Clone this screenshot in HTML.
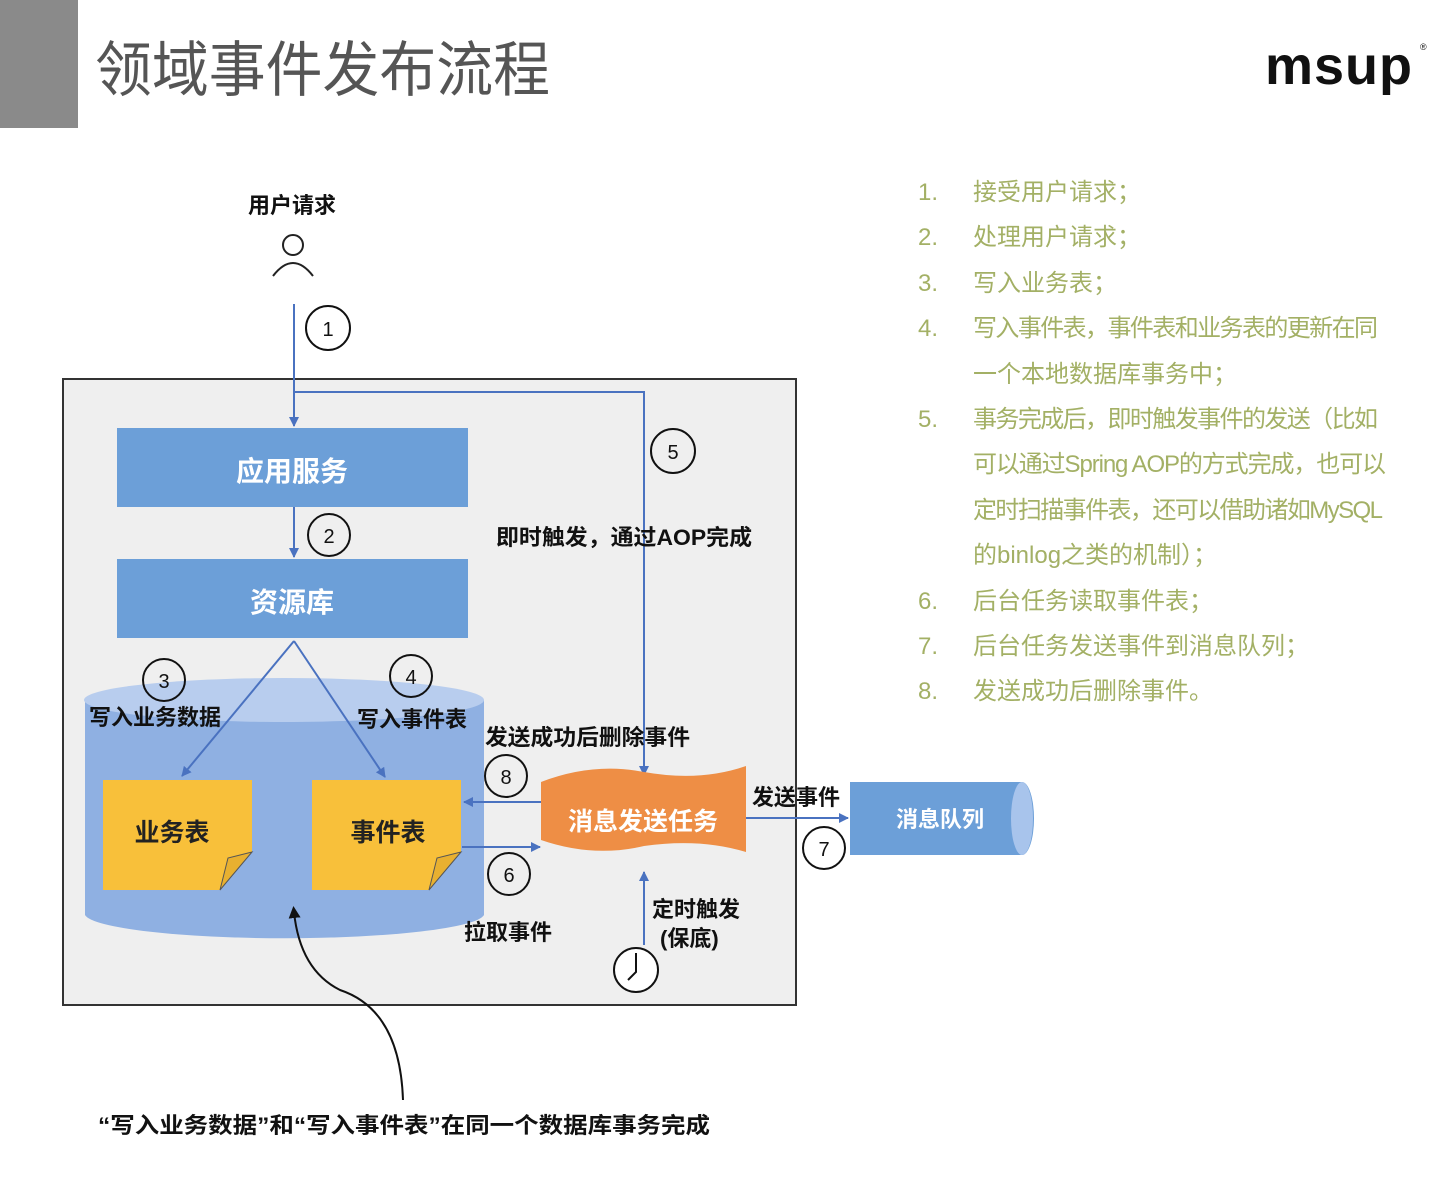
<!DOCTYPE html>
<html><head><meta charset="utf-8"><style>
html,body{margin:0;padding:0;background:#fff;}
svg{display:block;}
text{font-family:"Liberation Sans","Noto Sans CJK SC",sans-serif;}
</style></head><body>
<svg width="1448" height="1188" viewBox="0 0 1448 1188" xmlns="http://www.w3.org/2000/svg">
<defs>
<marker id="ab" markerWidth="10" markerHeight="10" refX="9" refY="5" orient="auto" markerUnits="userSpaceOnUse"><path d="M0,0 L10,5 L0,10 Z" fill="#4a72c0"/></marker>
<marker id="ak" markerWidth="12" markerHeight="12" refX="6" refY="6" orient="auto" markerUnits="userSpaceOnUse"><path d="M0,0 L12,6 L0,12 Z" fill="#111"/></marker>
</defs>
<rect width="1448" height="1188" fill="#fff"/>
<rect x="0" y="0" width="78" height="128" fill="#8a8a8a"/>
<text x="95" y="91" font-size="60" fill="#555" textLength="455" lengthAdjust="spacingAndGlyphs">领域事件发布流程</text>
<text x="1265" y="84" font-size="54" font-weight="bold" fill="#111" letter-spacing="1">msup</text>
<text x="1420" y="50" font-size="9" fill="#111">®</text>

<text x="248" y="213" font-size="22" font-weight="bold" fill="#111">用户请求</text>
<circle cx="293" cy="245" r="10" fill="none" stroke="#222" stroke-width="2"/>
<path d="M273,276 Q293,250 313,276" fill="none" stroke="#222" stroke-width="2"/>

<rect x="63" y="379" width="733" height="626" fill="#efefef" stroke="#333" stroke-width="2"/>

<line x1="294" y1="304" x2="294" y2="426" stroke="#4a72c0" stroke-width="2" marker-end="url(#ab)"/>
<circle cx="328" cy="328" r="22" fill="#fff" stroke="#111" stroke-width="2"/>
<text x="328" y="336" font-size="20" text-anchor="middle" fill="#111">1</text>
<polyline points="294,392 644,392 644,775" fill="none" stroke="#4a72c0" stroke-width="2" marker-end="url(#ab)"/>

<rect x="117" y="428" width="351" height="79" fill="#6c9fd8"/>
<text x="292" y="481" font-size="28" font-weight="bold" fill="#fff" text-anchor="middle">应用服务</text>
<line x1="294" y1="507" x2="294" y2="557" stroke="#4a72c0" stroke-width="2" marker-end="url(#ab)"/>
<circle cx="329" cy="535" r="21" fill="#efefef" stroke="#111" stroke-width="2"/>
<text x="329" y="543" font-size="20" text-anchor="middle" fill="#111">2</text>
<rect x="117" y="559" width="351" height="79" fill="#6c9fd8"/>
<text x="292" y="612" font-size="28" font-weight="bold" fill="#fff" text-anchor="middle">资源库</text>

<circle cx="673" cy="451" r="22" fill="#efefef" stroke="#111" stroke-width="2"/>
<text x="673" y="459" font-size="20" text-anchor="middle" fill="#111">5</text>
<text x="496" y="545" font-size="22" font-weight="bold" fill="#111" textLength="256" lengthAdjust="spacingAndGlyphs">即时触发，通过AOP完成</text>

<path d="M85,700 L85,915 A200,25 0 0 0 484,915 L484,700 Z" fill="#8fb0e2"/>
<ellipse cx="284" cy="700" rx="200" ry="22" fill="#b8cdee"/>

<line x1="294" y1="641" x2="182" y2="776" stroke="#4a72c0" stroke-width="2" marker-end="url(#ab)"/>
<line x1="294" y1="641" x2="385" y2="777" stroke="#4a72c0" stroke-width="2" marker-end="url(#ab)"/>
<circle cx="164" cy="680" r="21" fill="none" stroke="#111" stroke-width="2"/>
<text x="164" y="688" font-size="20" text-anchor="middle" fill="#111">3</text>
<circle cx="411" cy="676" r="21" fill="none" stroke="#111" stroke-width="2"/>
<text x="411" y="684" font-size="20" text-anchor="middle" fill="#111">4</text>
<text x="89" y="725" font-size="22" font-weight="bold" fill="#111">写入业务数据</text>
<text x="357" y="727" font-size="22" font-weight="bold" fill="#111">写入事件表</text>

<path d="M103,780 L252,780 L252,852 L220,890 L103,890 Z" fill="#f8c03a"/>
<path d="M252,852 L220,890 L228,858 Z" fill="#e8b030" stroke="#555" stroke-width="1"/>
<text x="172" y="841" font-size="25" font-weight="bold" fill="#222" text-anchor="middle">业务表</text>
<path d="M312,780 L461,780 L461,852 L429,890 L312,890 Z" fill="#f8c03a"/>
<path d="M461,852 L429,890 L437,858 Z" fill="#e8b030" stroke="#555" stroke-width="1"/>
<text x="388" y="841" font-size="25" font-weight="bold" fill="#222" text-anchor="middle">事件表</text>

<path d="M541,782 Q593,762 644,772 Q700,782 746,766 L746,852 Q700,838 644,846 Q593,858 541,840 Z" fill="#ee8e45"/>
<text x="643" y="830" font-size="25" font-weight="bold" fill="#fff" text-anchor="middle">消息发送任务</text>

<text x="485" y="745" font-size="22" font-weight="bold" fill="#111" textLength="205" lengthAdjust="spacingAndGlyphs">发送成功后删除事件</text>
<line x1="541" y1="802" x2="464" y2="802" stroke="#4a72c0" stroke-width="2" marker-end="url(#ab)"/>
<circle cx="506" cy="776" r="21" fill="#efefef" stroke="#111" stroke-width="2"/>
<text x="506" y="784" font-size="20" text-anchor="middle" fill="#111">8</text>
<line x1="462" y1="847" x2="540" y2="847" stroke="#4a72c0" stroke-width="2" marker-end="url(#ab)"/>
<circle cx="509" cy="874" r="21" fill="#efefef" stroke="#111" stroke-width="2"/>
<text x="509" y="882" font-size="20" text-anchor="middle" fill="#111">6</text>
<text x="464" y="940" font-size="22" font-weight="bold" fill="#111">拉取事件</text>

<line x1="644" y1="945" x2="644" y2="872" stroke="#4a72c0" stroke-width="2" marker-end="url(#ab)"/>
<text x="652" y="917" font-size="22" font-weight="bold" fill="#111">定时触发</text>
<text x="660" y="946" font-size="22" font-weight="bold" fill="#111">(保底)</text>
<circle cx="636" cy="970" r="22" fill="#fff" stroke="#111" stroke-width="2"/>
<polyline points="636,953 636,972 628,980" fill="none" stroke="#111" stroke-width="2"/>

<line x1="746" y1="818" x2="848" y2="818" stroke="#4a72c0" stroke-width="2" marker-end="url(#ab)"/>
<text x="752" y="805" font-size="22" font-weight="bold" fill="#111">发送事件</text>
<circle cx="824" cy="848" r="21" fill="#fff" stroke="#111" stroke-width="2"/>
<text x="824" y="856" font-size="20" text-anchor="middle" fill="#111">7</text>
<path d="M850,782 L1022,782 A12,36.5 0 0 1 1022,855 L850,855 Z" fill="#6c9fd8"/>
<ellipse cx="1022" cy="818.5" rx="11" ry="36.5" fill="#a8c4ec"/>
<text x="940" y="827" font-size="22" font-weight="bold" fill="#fff" text-anchor="middle">消息队列</text>

<path d="M403,1100 Q400,1010 340,990 Q300,970 294,912" fill="none" stroke="#111" stroke-width="2" marker-end="url(#ak)"/>
<text x="98" y="1133" font-size="22" font-weight="bold" fill="#111" textLength="612" lengthAdjust="spacingAndGlyphs">“写入业务数据”和“写入事件表”在同一个数据库事务完成</text>

<g font-size="24" fill="#a3b065">
<text x="918" y="200">1.</text><text x="973" y="200">接受用户请求；</text>
<text x="918" y="245">2.</text><text x="973" y="245">处理用户请求；</text>
<text x="918" y="291">3.</text><text x="973" y="291">写入业务表；</text>
<text x="918" y="336">4.</text><text x="973" y="336" textLength="405">写入事件表，事件表和业务表的更新在同</text>
<text x="973" y="382">一个本地数据库事务中；</text>
<text x="918" y="427">5.</text><text x="973" y="427" textLength="405">事务完成后，即时触发事件的发送（比如</text>
<text x="973" y="472" textLength="413">可以通过Spring AOP的方式完成，也可以</text>
<text x="973" y="518" textLength="410">定时扫描事件表，还可以借助诸如MySQL</text>
<text x="973" y="563">的binlog之类的机制）；</text>
<text x="918" y="609">6.</text><text x="973" y="609">后台任务读取事件表；</text>
<text x="918" y="654">7.</text><text x="973" y="654">后台任务发送事件到消息队列；</text>
<text x="918" y="699">8.</text><text x="973" y="699">发送成功后删除事件。</text>
</g>
</svg>
</body></html>
